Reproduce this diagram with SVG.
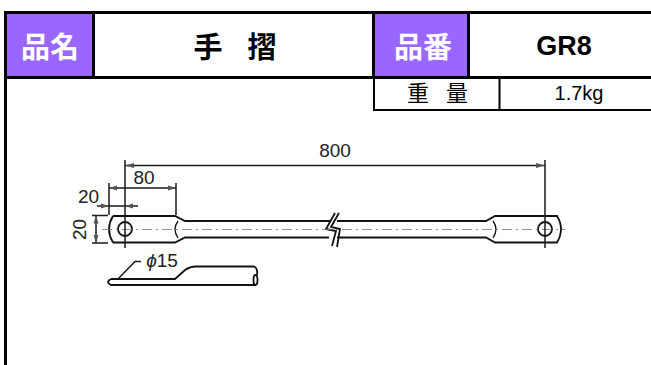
<svg xmlns="http://www.w3.org/2000/svg" width="651" height="365" viewBox="0 0 651 365">
<style>
.l{stroke:#000;stroke-width:3;fill:none}
.s{stroke:#000;stroke-width:2;fill:none}
.b{stroke:#111;fill:none;stroke-width:1.800}
.d{stroke:#1a1a1a;fill:none;stroke-width:1.500}
.c{stroke:#777;fill:none;stroke-width:.8;stroke-dasharray:10 4 2 4}
.h{font-family:"Noto Sans CJK JP",sans-serif;font-weight:700;font-size:29px;text-anchor:middle}
.w{fill:#fff}
.j{font-family:"Noto Sans CJK JP",sans-serif;font-size:22px;text-anchor:middle}
.t{font-family:"Liberation Sans",sans-serif;font-size:19px;fill:#222;text-anchor:middle}
.a{fill:#555}
</style>
<rect width="651" height="365" fill="#fff"/>
<g id="title-table">
<rect x="7" y="14" width="85" height="62" fill="#96f"/>
<rect x="375" y="14" width="92" height="62" fill="#96f"/>
<path class="l" d="M4 12.500H651M4 77.500H651M5.500 11V365M93.500 12V78M373.500 12V78M468.500 12V78"/>
<path class="s" d="M374 78V111M499.500 78V110M373 110H651"/>
</g>
<g id="label-name"><text class="h w" x="50" y="58">品名</text></g>
<g id="value-name"><text class="h" x="208" y="58">手</text><text class="h" x="262" y="58">摺</text></g>
<g id="label-number"><text class="h w" x="423" y="58">品番</text></g>
<g id="value-number"><text x="564" y="55" font-family="'Liberation Sans',sans-serif" font-weight="700" font-size="27" text-anchor="middle">GR8</text></g>
<g id="label-weight"><text class="j" x="418" y="101">重</text><text class="j" x="457" y="101">量</text></g>
<g id="value-weight"><text x="579" y="100" font-family="'Liberation Sans',sans-serif" font-size="20" text-anchor="middle">1.7kg</text></g>
<g id="handrail">
<g class="b">
<path d="M113 216H175L185 221H330M113 242.500H175L185 237.500H329"/>
<path d="M113 216Q105 229 113 242.500"/>
<path d="M337 221H486L495 216H557Q565 229 557 242.500H495L486 237.500H337"/>
<path d="M178 221Q172 229 178 238M493 221Q499 229 493 238" stroke-width="1.300"/>
<circle cx="125" cy="229" r="7"/>
<circle cx="545" cy="229" r="7"/>
<path d="M335 213L326 229L336 231L332 246"/>
<path d="M339 213L331 227L340 229L337 247"/>
</g>
<line class="c" x1="102" y1="229.500" x2="565" y2="229.500"/>
</g>
<g id="section">
<path class="b" d="M111 279H175L185 270Q190 266.500 196 266.500H254Q258 268 257 275M256 285H111Q105 282 111 279"/>
<ellipse cx="255.500" cy="280" rx="2" ry="5" class="b" stroke-width="1.300"/>
</g>
<g id="dimensions">
<g class="d">
<path d="M125 160V248M545 160V248"/>
<path d="M125 165.500H545"/>
<path d="M109 183V215M176 183V215M109 188H176"/>
<path d="M97 206H138"/>
<path d="M92 215.500H108M92 243H108M96 215.500V243"/>
<path d="M118 279L135 261.500H141"/>
</g>
<g class="a">
<path d="M125 165.500l9-2.500v5zM545 165.500l-9-2.500v5z"/>
<path d="M109 188l8-2.500v5zM176 188l-8-2.500v5z"/>
<path d="M109 206l-8-2.500v5zM125 206l8-2.500v5z"/>
<path d="M96 215.500l-2.500 8h5zM96 243l-2.500-8h5z"/>
</g>
<text class="t" x="335" y="157">800</text>
<text class="t" x="144" y="184">80</text>
<text class="t" x="88.500" y="203">20</text>
<text class="t" transform="translate(86 229.500) rotate(-90)">20</text>
<text class="t" x="162" y="267"><tspan font-style="italic">ϕ</tspan>15</text>
</g>
</svg>
